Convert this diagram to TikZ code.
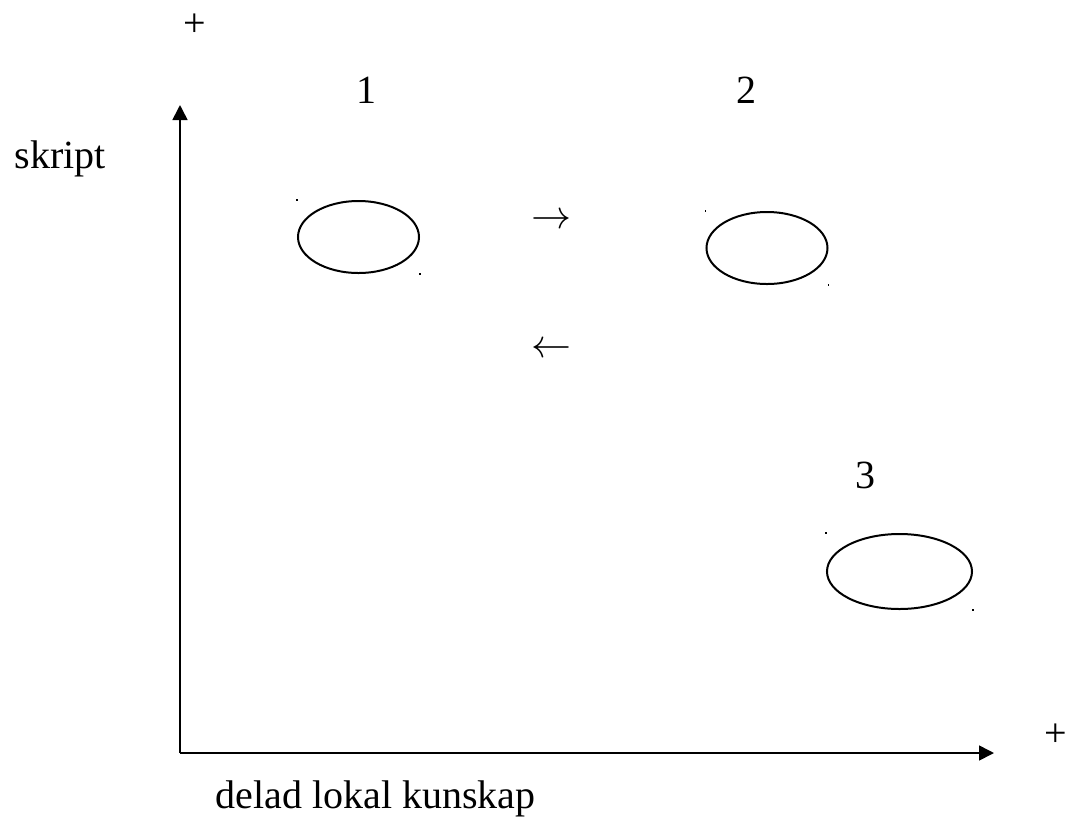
\documentclass[tikz,border=0pt]{standalone}
\usepackage{fontspec}
\setmainfont{Liberation Serif}
\usetikzlibrary{arrows.meta,shapes.geometric,calc}
\begin{document}
\begin{tikzpicture}[x=0.3pt,y=-0.3pt,
	    axis/.style={line width=0.5pt,-{Triangle[length=4.5pt,width=4.5pt]}},
	    blob/.style={draw,ellipse,line width=0.6pt,inner sep=0pt},
	    lbl/.style={font=\fontsize{12}{14}\selectfont,inner sep=0pt},
	    speck/.style={fill,inner sep=0pt,minimum size=0.5pt}]
	    \useasboundingbox (0,0) rectangle (1068,817);
	    % axes
	    \coordinate (o) at (180,753);
	    \coordinate (ytip) at (180,105);
	    \coordinate (xtip) at (994,753);
	    \draw[axis](o)--(ytip);
	    \draw[axis](o)--(xtip);
	    \node[lbl] (yplus) at (195,25) {+};
	    \node[lbl] (xplus) at (1056,735) {+};
	    \node[lbl,anchor=base west] (ylab) at (14,168) {skript};
	    \node[lbl,anchor=base west] (xlab) at (215,808) {delad lokal kunskap};
	    % states
	    \node[blob,minimum width=36.3pt,minimum height=21.6pt] (e1) at (358.5,237) {};
	    \node[blob,minimum width=36.3pt,minimum height=21.6pt] (e2) at (767,248) {};
	    \node[blob,minimum width=43.5pt,minimum height=22.5pt] (e3) at (899.5,571.5) {};
	    \node[lbl,anchor=base] (n1) at (367,103) {1};
	    \node[lbl,anchor=base] (n2) at (746,103) {2};
	    \node[lbl,anchor=base] (n3) at (865,488) {3};
	    \foreach \e in {e1,e2,e3}{
	      \node[speck] at (\e.west |- \e.north) {};
	      \node[speck] at (\e.east |- \e.south) {};
	    }
	    \node[lbl] (fwd) at (551,221) {$\rightarrow$};
	    \node[lbl] (back) at (552,350) {$\leftarrow$};
	\end{tikzpicture}
\end{document}
